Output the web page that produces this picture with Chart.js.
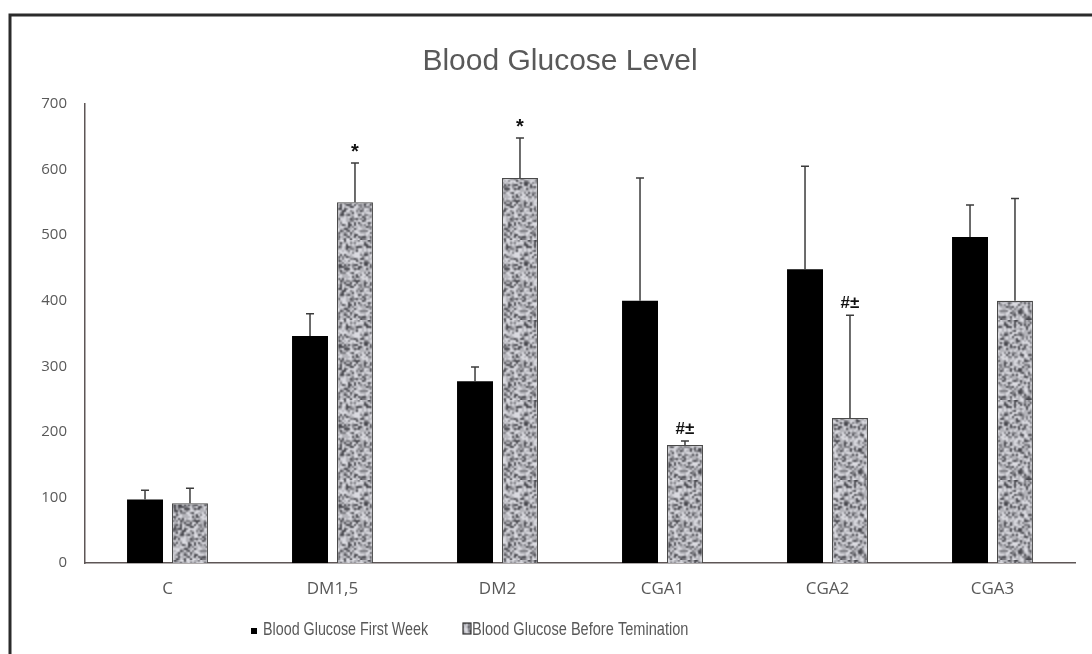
<!DOCTYPE html>
<html>
<head>
<meta charset="utf-8">
<script src="https://cdn.jsdelivr.net/npm/chart.js@4.4.0/dist/chart.umd.min.js"></script>
<style>
  html, body { margin: 0; padding: 0; background: #fff; }
  #wrap { width: 1092px; height: 654px; }
</style>
</head>
<body>
<div id="wrap"><canvas id="glucoseChart" width="1092" height="654"></canvas></div>
<script>
var groups = ["C", "DM1,5", "DM2", "CGA1", "CGA2", "CGA3"];
var firstWeek = [97, 346, 277, 400, 448, 497];
var firstWeekErr = [14, 34, 22, 187, 157, 49];
var beforeTerm = [91, 550, 587, 180, 221, 400];
var beforeTermErr = [23, 60, 61, 6, 157, 156];
var marks = ["", "*", "*", "#\u00b1", "#\u00b1", ""];
var yTicks = [0, 100, 200, 300, 400, 500, 600, 700];
var chartTitle = "Blood Glucose Level";

var textGrey = "#595959";

// speckled grey texture for the second series (deterministic hash, not data)
function speckle() {
	var src = document.createElement("canvas");
	src.width = 40; src.height = 40;
	var s = src.getContext("2d");
	for (var y = 0; y < 40; y++) {
		for (var x = 0; x < 40; x++) {
			var h = Math.sin(x * 12.9898 + y * 78.233) * 43758.5453;
			h = h - Math.floor(h);
			var v;
			if (h < 0.2) v = 75;
			else if (h < 0.38) v = 125;
			else if (h < 0.68) v = 180;
			else v = 218;
			s.fillStyle = "rgb(" + v + "," + v + "," + (v + 6) + ")";
			s.fillRect(x, y, 1, 1);
		}
	}
	var c = document.createElement("canvas");
	c.width = 80; c.height = 80;
	var g = c.getContext("2d");
	g.imageSmoothingEnabled = true;
	g.drawImage(src, 0, 0, 80, 80);
	return g.createPattern(c, "repeat");
}
var ctx = document.getElementById("glucoseChart").getContext("2d");
var texture = speckle();

// outer frame, title and legend (placed like the original figure)
var frame = {
	id: "frame",
	afterDraw: function(chart) {
		var c = chart.ctx;
		var ds = chart.data.datasets;
		c.save();
		c.strokeStyle = "#2b2b2b";
		c.lineWidth = 3;
		c.beginPath();
		c.moveTo(10, 660);
		c.lineTo(10, 15);
		c.lineTo(1100, 15);
		c.stroke();

		c.fillStyle = textGrey;
		c.textAlign = "center";
		c.textBaseline = "alphabetic";
		c.font = "30px 'Liberation Sans', Arial";
		c.fillText(chartTitle, 560, 70);

		// legend
		c.fillStyle = "#000";
		c.fillRect(251, 628, 6, 6);
		c.fillStyle = texture;
		c.fillRect(463, 623, 8, 11);
		c.strokeStyle = "#333";
		c.lineWidth = 1.2;
		c.strokeRect(463, 623, 8, 11);
		c.fillStyle = textGrey;
		c.textAlign = "left";
		c.font = "18px 'Liberation Sans', Arial";
		c.save();
		c.translate(263, 635);
		c.scale(0.795, 1);
		c.fillText(ds[0].label, 0, 0);
		c.restore();
		c.save();
		c.translate(472, 635);
		c.scale(0.81, 1);
		c.fillText(ds[1].label, 0, 0);
		c.restore();
		c.restore();
	}
};

// error bars (upper half only) and significance marks
var errorBars = {
	id: "errorBars",
	afterDatasetsDraw: function(chart) {
		var c = chart.ctx;
		var ys = chart.scales.y;
		var errs = [firstWeekErr, beforeTermErr];
		c.save();
		c.strokeStyle = "#3c3c3c";
		c.lineWidth = 1.5;
		for (var d = 0; d < 2; d++) {
			var meta = chart.getDatasetMeta(d);
			var vals = chart.data.datasets[d].data;
			meta.data.forEach(function(bar, i) {
				var top = ys.getPixelForValue(vals[i]);
				var end = ys.getPixelForValue(vals[i] + errs[d][i]);
				c.beginPath();
				c.moveTo(bar.x, top);
				c.lineTo(bar.x, end);
				c.moveTo(bar.x - 4, end);
				c.lineTo(bar.x + 4, end);
				c.stroke();
				if (d === 1 && marks[i]) {
					c.fillStyle = "#111";
					c.textAlign = "center";
					c.textBaseline = "bottom";
					if (marks[i] === "*") {
						c.font = "bold 20px 'Liberation Sans'";
						c.fillText(marks[i], bar.x, end - 1);
					} else {
						c.font = "bold 17px 'Liberation Sans'";
						c.fillText(marks[i], bar.x, end - 3);
					}
				}
			});
		}
		c.restore();
	}
};

var chart = new Chart(ctx, {
	type: "bar",
	data: {
		labels: groups,
		datasets: [
			{
				label: "Blood Glucose First Week",
				data: firstWeek,
				backgroundColor: "#000000",
				borderColor: "#000000",
				borderWidth: 0
			},
			{
				label: "Blood Glucose Before Temination",
				data: beforeTerm,
				backgroundColor: texture,
				borderColor: "#4a4a4a",
				borderWidth: 1.2
			}
		]
	},
	options: {
		responsive: false,
		animation: false,
		devicePixelRatio: 1,
		categoryPercentage: 0.545,
		barPercentage: 0.8,
		layout: { padding: { top: 104, right: 17, bottom: 43, left: 0 } },
		plugins: {
			tooltip: { enabled: false },
			title: { display: false },
			legend: { display: false }
		},
		scales: {
			x: {
				grid: { display: false, drawTicks: false },
				border: { color: "#5e5656", width: 1.5 },
				ticks: {
					color: textGrey,
					font: { family: "'Open Sans', 'DejaVu Sans'", size: 17 },
					padding: 16
				},
				afterFit: function(s) { s.height = 48; }
			},
			y: {
				min: 0,
				max: 700,
				afterBuildTicks: function(s) {
					s.ticks = yTicks.map(function(v) { return { value: v }; });
				},
				grid: { display: false, drawTicks: false },
				border: { color: "#5e5656", width: 1.5 },
				ticks: {
					color: textGrey,
					font: { family: "'Open Sans', 'DejaVu Sans'", size: 15 },
					padding: 18
				},
				afterFit: function(s) { s.width = 85; }
			}
		}
	},
	plugins: [frame, errorBars]
});
</script>
</body>
</html>
